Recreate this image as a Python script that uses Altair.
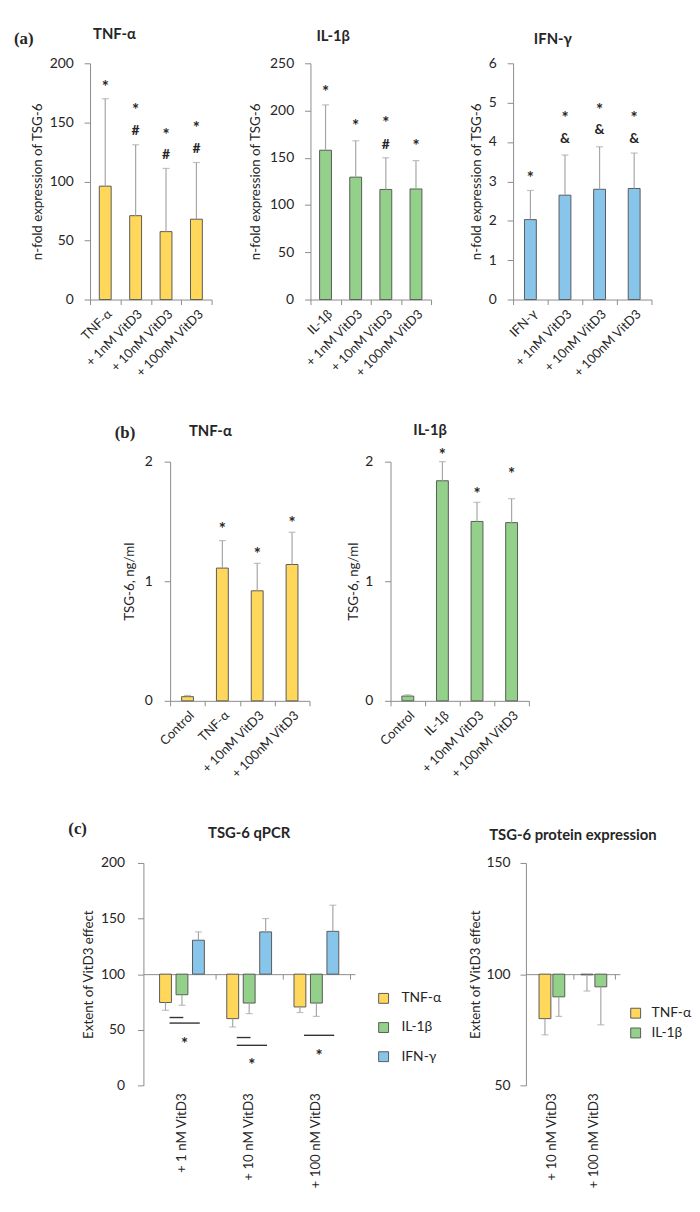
import altair as alt
import pandas as pd

FONT = "Lato"
SERIF = "Liberation Serif"
YELLOW = "#FFD75A"
GREEN = "#93D18A"
BLUE = "#88C5EA"
EDGE = "#5A5A5A"
ERRC = "#A6A6A6"
AXISC = "#8C8C8C"
TEXTC = "#262626"

# ---------------- (a) qPCR: n-fold expression of TSG-6 ----------------
a1_cats = ["TNF-α", "+ 1nM VitD3", "+ 10nM VitD3", "+ 100nM VitD3"]
a1_vals = [96, 71, 57.5, 68]
a1_err = [170, 131, 111, 116]
a1_star = [182, 163, 142, 148]
a1_hash = [None, 143, 122, 127]

a2_cats = ["IL-1β", "+ 1nM VitD3", "+ 10nM VitD3", "+ 100nM VitD3"]
a2_vals = [158, 129.5, 116.5, 117]
a2_err = [206, 168, 150, 147]
a2_star = [223, 187, 190, 166]
a2_hash = [None, None, 164, None]

a3_cats = ["IFN-γ", "+ 1nM VitD3", "+ 10nM VitD3", "+ 100nM VitD3"]
a3_vals = [2.03, 2.65, 2.8, 2.82]
a3_err = [2.77, 3.67, 3.88, 3.72]
a3_star = [3.15, 4.68, 4.9, 4.68]
a3_amp = [None, 4.07, 4.3, 4.07]

# ---------------- (b) TSG-6 protein, ng/ml ----------------
b1_cats = ["Control", "TNF-α", "+ 10nM VitD3", "+ 100nM VitD3"]
b1_vals = [0.035, 1.11, 0.92, 1.14]
b1_err = [0.045, 1.34, 1.15, 1.41]
b1_star = [None, 1.46, 1.25, 1.51]

b2_cats = ["Control", "IL-1β", "+ 10nM VitD3", "+ 100nM VitD3"]
b2_vals = [0.04, 1.84, 1.5, 1.49]
b2_err = [0.05, 2.0, 1.66, 1.69]
b2_star = [None, 2.08, 1.75, 1.92]

# ---------------- (c) extent of VitD3 effect ----------------
c_series = ["TNF-α", "IL-1β", "IFN-γ"]
c_colors = [YELLOW, GREEN, BLUE]

c1_groups = ["+ 1 nM VitD3", "+ 10 nM VitD3", "+ 100 nM VitD3"]
c1_tnf = [74.5, 60, 70.5]
c1_tnf_err = [67.5, 52.5, 65.5]
c1_il = [81.5, 74, 74]
c1_il_err = [72, 64.5, 62]
c1_ifn = [130.5, 138, 138.5]
c1_ifn_err = [138, 150, 162]
c1_sig_group = [0, 0, 1, 1, 2]
c1_sig_from = ["TNF-α", "TNF-α", "TNF-α", "TNF-α", "TNF-α"]
c1_sig_to = ["IL-1β", "IFN-γ", "IL-1β", "IFN-γ", "IFN-γ"]
c1_sig_level = [61, 56, 43, 36, 45]
c1_star_level = [39.5, 21, 29]

c2_groups = ["+ 10 nM VitD3", "+ 100 nM VitD3"]
c2_tnf = [80, 99.7]
c2_tnf_err = [72.7, 92.4]
c2_il = [89.8, 94.3]
c2_il_err = [81, 77.2]


def y_axis(values, title, label_pad, title_pad, tick_count=None):
    kw = {}
    if values is not None:
        kw["values"] = values
        kw["tickCount"] = len(values) + 6
    else:
        kw["tickCount"] = tick_count
    return alt.Axis(title=title, grid=False,
                    domainColor=AXISC, tickColor=AXISC, tickSize=6, labelFontSize=14,
                    labelColor=TEXTC, labelFont=FONT, labelPadding=label_pad,
                    titlePadding=title_pad, titleFontSize=13.5, titleFontWeight="normal",
                    titleColor=TEXTC, titleFont=FONT, format="d", labelOverlap=False,
                    labelFlush=False, **kw)


def text_at(text, x, y, font=FONT, size=15, align="left", weight="bold",
            baseline="alphabetic"):
    return alt.Chart(pd.DataFrame({"t": [text]})).mark_text(
        font=font, fontSize=size, fontWeight=weight, align=align,
        baseline=baseline, color=TEXTC
    ).encode(text="t:N", x=alt.value(x), y=alt.value(y))


def gap(width, height=1, label=None):
    if label is None:
        label = ("", 0, 0)
    return text_at(label[0], label[1], label[2], font=SERIF, size=17).properties(
        width=width, height=height)


def cat_panel(cats, vals, errs, stars, extra, extra_sym, color, ydom, yvals, ytitle,
              title, title_x, title_y, width, height, label_pad, title_pad,
              corner=None, tick_count=None):
    df = pd.DataFrame({"cat": cats, "val": vals, "err": errs})
    x = alt.X("cat:N", sort=cats, title=None,
              scale=alt.Scale(paddingInner=0, paddingOuter=0),
              axis=alt.Axis(labelAngle=-45, tickBand="extent", domainColor=AXISC,
                            tickColor=AXISC, tickSize=5, labelFontSize=13,
                            labelColor=TEXTC, labelFont=FONT, labelPadding=3,
                            grid=False))
    y = alt.Y("val:Q", scale=alt.Scale(domain=ydom, nice=False),
              axis=y_axis(yvals, ytitle, label_pad, title_pad, tick_count))
    base = alt.Chart(df)
    bars = base.mark_bar(size=12, color=color, stroke=EDGE, strokeWidth=1).encode(x=x, y=y)
    errl = base.mark_rule(color=ERRC, strokeWidth=1.2).encode(x=x, y="val:Q", y2="err:Q")
    caps = base.mark_tick(color=ERRC, size=7, thickness=1.2).encode(x=x, y="err:Q")
    layers = [bars, errl, caps]
    sdf = pd.DataFrame({"cat": cats, "lvl": stars}).dropna()
    layers.append(alt.Chart(sdf).mark_text(text="*", fontSize=17, fontWeight="bold",
                                           color=TEXTC, dy=4)
                  .encode(x=x, y="lvl:Q"))
    if extra is not None:
        edf = pd.DataFrame({"cat": cats, "lvl": extra}).dropna()
        layers.append(alt.Chart(edf).mark_text(text=extra_sym, fontSize=14,
                                               fontWeight="bold", color=TEXTC)
                      .encode(x=x, y="lvl:Q"))
    layers.append(text_at(title, title_x, title_y))
    if corner is not None:
        layers.append(text_at(corner[0], corner[1], corner[2], font=SERIF, size=17))
    return alt.layer(*layers).properties(width=width, height=height)


def effect_panel(groups, series, colors, vals, errs, spacing, ydom, yvals, title,
                 title_y, width, height, leg_x, leg_y, leg_dy, leg_gap,
                 label_pad, title_pad, sig=None, star_levels=None):
    n = len(series)

    def slot(gi, si):
        return gi + 0.5 + (si - (n - 1) / 2) * spacing

    rows = []
    for si, s in enumerate(series):
        for gi in range(len(groups)):
            rows.append({"series": s, "x": slot(gi, si),
                         "val": vals[si][gi], "err": errs[si][gi]})
    df = pd.DataFrame(rows)
    axis_offset = -height * (100 - ydom[0]) / (ydom[1] - ydom[0])
    xticks = list(range(1, len(groups) + 1))
    x = alt.X("x:Q", title=None,
              scale=alt.Scale(domain=[0, len(groups)], nice=False, zero=False),
              axis=alt.Axis(values=xticks, tickCount=len(xticks) + 6, offset=axis_offset,
                            labels=False, domainColor=AXISC, tickColor=AXISC,
                            tickSize=5, grid=False))
    y = alt.Y("val:Q", scale=alt.Scale(domain=ydom, nice=False, zero=False),
              axis=y_axis(yvals, "Extent of VitD3 effect", label_pad, title_pad))
    cscale = alt.Scale(domain=series, range=colors)
    base = alt.Chart(df)
    bars = base.mark_bar(size=12, stroke=EDGE, strokeWidth=1).encode(
        x=x, y=y, y2=alt.datum(100),
        color=alt.Color("series:N", scale=cscale, legend=None))
    errl = base.mark_rule(color=ERRC, strokeWidth=1.2).encode(x="x:Q", y="val:Q", y2="err:Q")
    caps = base.mark_tick(color=ERRC, size=7, thickness=1.2, orient="horizontal").encode(
        x="x:Q", y="err:Q")
    gdf = pd.DataFrame({"grp": groups, "gx": [g + 0.5 for g in range(len(groups))]})
    glabels = alt.Chart(gdf).mark_text(angle=270, align="right", baseline="middle",
                                       fontSize=13.5, font=FONT, color=TEXTC).encode(
        x="gx:Q", y=alt.value(height + 8), text="grp:N")
    layers = [bars, errl, caps, glabels]
    if sig is not None:
        g, f, t, lv = sig
        sdf = pd.DataFrame({
            "sx1": [slot(gi, series.index(a)) + 0.06 for gi, a in zip(g, f)],
            "sx2": [slot(gi, series.index(b)) + 0.02 for gi, b in zip(g, t)],
            "lvl": lv})
        layers.append(alt.Chart(sdf).mark_rule(color="#333333", strokeWidth=1.4).encode(
            x="sx1:Q", x2="sx2:Q", y="lvl:Q"))
        mids = {}
        for gi, a, b in zip(g, f, t):
            mids.setdefault(gi, []).append(
                (slot(gi, series.index(a)) + 0.06 + slot(gi, series.index(b)) + 0.02) / 2)
        stdf = pd.DataFrame({"sx": [max(mids[gi]) for gi in range(len(groups))],
                             "lvl": star_levels})
        layers.append(alt.Chart(stdf).mark_text(text="*", fontSize=17, fontWeight="bold",
                                                color=TEXTC, dy=4).encode(x="sx:Q", y="lvl:Q"))
    # legend: swatches coloured through the same colour scale, with labels
    for i, s in enumerate(series):
        sw = alt.Chart(pd.DataFrame({"series": [s]})).mark_square(
            size=100, stroke=EDGE, strokeWidth=1, opacity=1
        ).encode(x=alt.value(leg_x), y=alt.value(leg_y + i * leg_dy),
                 color=alt.Color("series:N", scale=cscale, legend=None))
        layers.append(sw)
        layers.append(text_at(s, leg_x + leg_gap, leg_y + i * leg_dy, size=14,
                              weight="normal", baseline="middle"))
    layers.append(text_at(title, width / 2, title_y, align="center"))
    return alt.layer(*layers).properties(width=width, height=height)


A1 = cat_panel(a1_cats, a1_vals, a1_err, a1_star, a1_hash, "#", YELLOW, [0, 200],
               [0, 50, 100, 150, 200], "n-fold expression of TSG-6", "TNF-α", 3, -25,
               123, 239, 11, 5, corner=("(a)", -77, -20))
A2 = cat_panel(a2_cats, a2_vals, a2_err, a2_star, a2_hash, "#", GREEN, [0, 250],
               [0, 50, 100, 150, 200, 250], "n-fold expression of TSG-6", "IL-1β", 6, -23,
               122, 239, 11, 7)
A3 = cat_panel(a3_cats, a3_vals, a3_err, a3_star, a3_amp, "&", BLUE, [0, 6],
               [0, 1, 2, 3, 4, 5, 6], "n-fold expression of TSG-6", "IFN-γ", 21, -20,
               140, 239, 11, 5)

B1 = cat_panel(b1_cats, b1_vals, b1_err, b1_star, None, None, YELLOW, [0, 2], None,
               "TSG-6, ng/ml", "TNF-α", 19, -26, 141, 242, 12, 8, tick_count=2)
B2 = cat_panel(b2_cats, b2_vals, b2_err, b2_star, None, None, GREEN, [0, 2], None,
               "TSG-6, ng/ml", "IL-1β", 23, -27, 140, 242, 12, 4, tick_count=2)

C1 = effect_panel(c1_groups, c_series, c_colors,
                  [c1_tnf, c1_il, c1_ifn], [c1_tnf_err, c1_il_err, c1_ifn_err],
                  0.245, [0, 200], [0, 50, 100, 150, 200], "TSG-6 qPCR", -25, 214, 225,
                  243, 137, 29.5, 18, 13, 5,
                  sig=(c1_sig_group, c1_sig_from, c1_sig_to, c1_sig_level),
                  star_levels=c1_star_level)
C2 = effect_panel(c2_groups, c_series[:2], c_colors[:2],
                  [c2_tnf, c2_il], [c2_tnf_err, c2_il_err],
                  0.33, [50, 150], [50, 100, 150], "TSG-6 protein expression", -23, 95, 225,
                  111, 152, 20, 16, 10, 4)

rowA = alt.hconcat(A1, gap(100, 239), A2, gap(83, 239), A3, spacing=0, bounds="flush")
rowB = alt.hconcat(gap(81, 242, ("(b)", 25, -24)), B1, gap(82, 242), B2,
                   spacing=0, bounds="flush")
rowC = alt.hconcat(gap(54, 225, ("(c)", -22, -29)), C1, gap(173, 225), C2,
                   spacing=0, bounds="flush")

chart = alt.vconcat(rowA, gap(1, 239 + 164), rowB, gap(1, 242 + 164), rowC,
                    spacing=0, bounds="flush").properties(
    padding={"left": 6, "top": 12, "right": 0, "bottom": 0}
).configure(font=FONT).configure_view(strokeWidth=0)

chart.save("out.html", embed_options={"renderer": "svg", "actions": False})
